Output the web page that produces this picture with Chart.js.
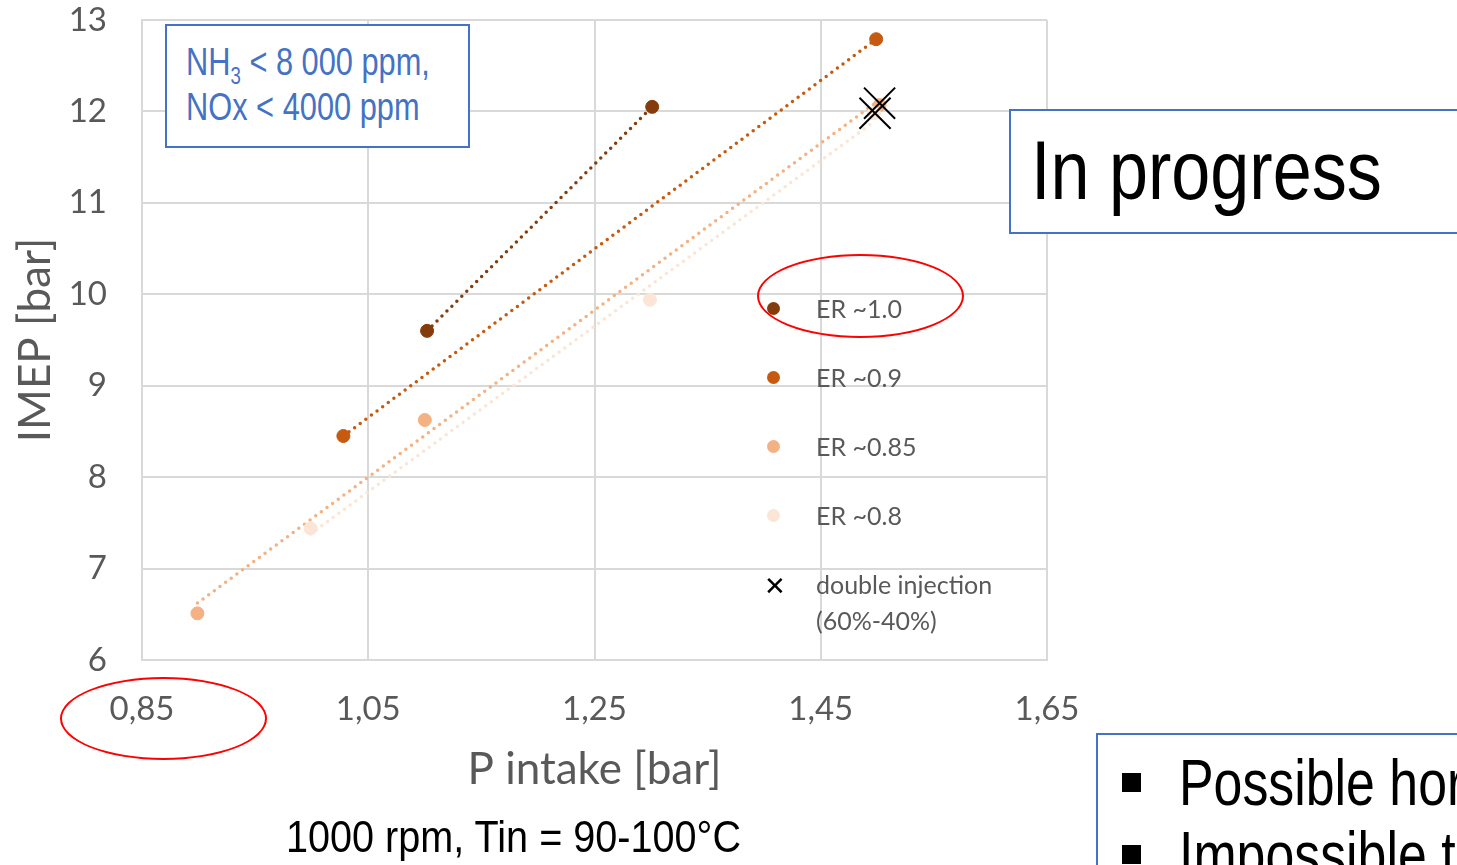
<!DOCTYPE html>
<html>
<head>
<meta charset="utf-8">
<script src="https://cdn.jsdelivr.net/npm/chart.js@4.4.1/dist/chart.umd.min.js"></script>
<style>
  html, body { margin: 0; padding: 0; background: #fff; }
  #wrap { position: relative; width: 1457px; height: 865px; overflow: hidden; }
  #wrap canvas { position: absolute; left: 0; top: 0; }
  .narrow { font-family: "Liberation Sans", Arial, sans-serif; }
  .sq { display: inline-block; transform-origin: 0 50%; white-space: nowrap; }
  .box { position: absolute; border: 2px solid #4472C4; background: #fff; box-sizing: border-box; }
  .legend { position: absolute; left: 760px; top: 290px; font-family: Lato, sans-serif; font-size: 25px; color: #595959; }
  .legend .item { position: absolute; left: 0; white-space: nowrap; }
  .legend .dot { position: absolute; left: 7px; width: 13px; height: 13px; border-radius: 50%; }
  .legend .txt { position: absolute; left: 56px; line-height: 36px; }
  .ellipse { position: absolute; border: 2.5px solid #ff0000; border-radius: 50%; box-sizing: border-box; }
</style>
</head>
<body>
<div id="wrap">
  <canvas id="chart" width="1457" height="865"></canvas>

  <div class="box narrow" style="left:165px; top:24px; width:305px; height:124px; color:#4472C4; font-size:38px; line-height:45px; padding:14px 0 0 19px;">
    <span class="sq" style="transform:scaleX(0.81)">NH<sub style="font-size:23px; vertical-align:-9px; line-height:0;">3</sub> &lt; 8 000 ppm,</span><br>
    <span class="sq" style="transform:scaleX(0.81)">NOx &lt; 4000 ppm</span>
  </div>

  <div class="box narrow" style="left:1009px; top:109px; width:470px; height:125px; color:#000; font-size:84px; line-height:118px; padding-left:20px;">
    <span class="sq" style="transform:scaleX(0.835)">In progress</span>
  </div>

  <div class="box narrow" style="left:1096px; top:733px; width:400px; height:160px; color:#000; font-size:64px; line-height:72px; padding:12px 0 0 24px;">
    <div style="white-space:nowrap;"><span style="display:inline-block; width:19px; height:19px; background:#000; vertical-align:13px; margin-right:38px;"></span><span class="sq" style="transform:scaleX(0.81)">Possible hor</span></div>
    <div style="white-space:nowrap;"><span style="display:inline-block; width:19px; height:19px; background:#000; vertical-align:13px; margin-right:38px;"></span><span class="sq" style="transform:scaleX(0.81)">Impossible t</span></div>
  </div>

  <div class="narrow" style="position:absolute; left:286px; top:810px; font-size:45px; line-height:54px; color:#000;">
    <span class="sq" style="transform:scaleX(0.88)">1000 rpm, Tin = 90-100°C</span>
  </div>

  <div class="legend" id="legend"></div>

  <div class="ellipse" style="left:757px; top:254px; width:207px; height:84px;"></div>
  <div class="ellipse" style="left:60px; top:677px; width:207px; height:83px;"></div>
</div>

<script>
// data
const seriesNames = ['ER ~1.0', 'ER ~0.9', 'ER ~0.85', 'ER ~0.8'];
const seriesColors = ['#843C0C', '#C55A11', '#F4B183', '#FBE5D6'];

const er10X = [1.102, 1.301];
const er10Y = [9.60, 12.05];
const er09X = [1.028, 1.499];
const er09Y = [8.45, 12.79];
const er085X = [0.899, 1.100, 1.502];
const er085Y = [6.51, 8.625, 12.07];
const er08X = [0.999, 1.299, 1.497];
const er08Y = [7.44, 9.94, 11.98];

const dblLabel = 'double injection (60%-40%)';
const dblX = [1.502, 1.498];
const dblY = [12.09, 11.98];

const xTicks = [0.85, 1.05, 1.25, 1.45, 1.65];
const yTicks = [6, 7, 8, 9, 10, 11, 12, 13];

const seriesX = [er10X, er09X, er085X, er08X];
const seriesY = [er10Y, er09Y, er085Y, er08Y];

const toPts = (xs, ys) => xs.map((x, i) => ({ x, y: ys[i] }));

// least squares trendline over the data range
function trend(xs, ys) {
    const n = xs.length;
    const mx = xs.reduce((a, b) => a + b, 0) / n;
    const my = ys.reduce((a, b) => a + b, 0) / n;
    let sxy = 0, sxx = 0;
    xs.forEach((x, i) => { sxy += (x - mx) * (ys[i] - my); sxx += (x - mx) * (x - mx); });
    const k = sxy / sxx, b = my - k * mx;
    const x0 = Math.min(...xs), x1 = Math.max(...xs);
    return [{ x: x0, y: k * x0 + b }, { x: x1, y: k * x1 + b }];
}

const datasets = [];
seriesNames.forEach((name, i) => {
    datasets.push({
        label: name + ' trend',
        data: trend(seriesX[i], seriesY[i]),
        showLine: true,
        borderColor: seriesColors[i],
        borderWidth: 3.5,
        borderDash: [0, 7],
        borderCapStyle: 'round',
        pointRadius: 0,
        order: 5
    });
});
// light series first so darker ones sit on top
[3, 2, 1, 0].forEach(i => {
    datasets.push({
        label: seriesNames[i],
        data: toPts(seriesX[i], seriesY[i]),
        backgroundColor: seriesColors[i],
        borderColor: seriesColors[i],
        pointRadius: 6.5,
        pointHoverRadius: 6.5,
        order: 2
    });
});
datasets.push({
    label: dblLabel,
    data: toPts(dblX, dblY),
    pointStyle: 'crossRot',
    pointRadius: 22,
    borderColor: '#000',
    borderWidth: 2,
    backgroundColor: '#000',
    order: 0
});

const tickFont = { family: 'Lato', size: 33 };
const titleFont = { family: 'Lato', size: 44 };

new Chart(document.getElementById('chart'), {
    type: 'scatter',
    data: { datasets },
    options: {
        responsive: false,
        animation: false,
        layout: { autoPadding: false, padding: { top: 20, right: 410, left: 0, bottom: 0 } },
        plugins: { legend: { display: false }, tooltip: { enabled: false } },
        scales: {
            x: {
                type: 'linear',
                min: 0.85, max: 1.65,
                afterBuildTicks: s => { s.ticks = xTicks.map(v => ({ value: v })); },
                afterFit: s => { s.height = 205; },
                ticks: { font: tickFont, color: '#595959', padding: 30, maxRotation: 0,
                    callback: v => v.toFixed(2).replace('.', ',') },
                grid: { color: '#D9D9D9', lineWidth: 2, drawTicks: false },
                border: { color: '#D9D9D9', width: 2 },
                title: { display: true, text: 'P intake [bar]', font: titleFont, color: '#595959', padding: { top: 0, bottom: 69 } }
            },
            y: {
                type: 'linear',
                min: 6, max: 13,
                afterBuildTicks: s => { s.ticks = yTicks.map(v => ({ value: v })); },
                afterFit: s => { s.width = 142; s.paddingTop = 0; s.paddingBottom = 0; },
                ticks: { font: tickFont, color: '#595959', padding: 35 },
                grid: { color: '#D9D9D9', lineWidth: 2, drawTicks: false },
                border: { color: '#D9D9D9', width: 2 },
                title: { display: true, text: 'IMEP [bar]', font: titleFont, color: '#595959', padding: { top: 9, bottom: 0 } }
            }
        }
    }
});

// legend
const legend = document.getElementById('legend');
let html = '';
seriesNames.forEach((name, i) => {
    const top = i * 69;
    html += `<div class="item" style="top:${top}px">
        <div class="dot" style="top:12px; background:${seriesColors[i]}"></div>
        <div class="txt" style="top:0">${name}</div></div>`;
});
html += `<div class="item" style="top:${4 * 69}px">
    <div style="position:absolute; left:4px; top:5px; font-size:26px; color:#000; font-family:'DejaVu Sans'">✕</div>
    <div class="txt" style="top:0">double injection<br>(60%-40%)</div></div>`;
legend.innerHTML = html;
</script>
</body>
</html>
